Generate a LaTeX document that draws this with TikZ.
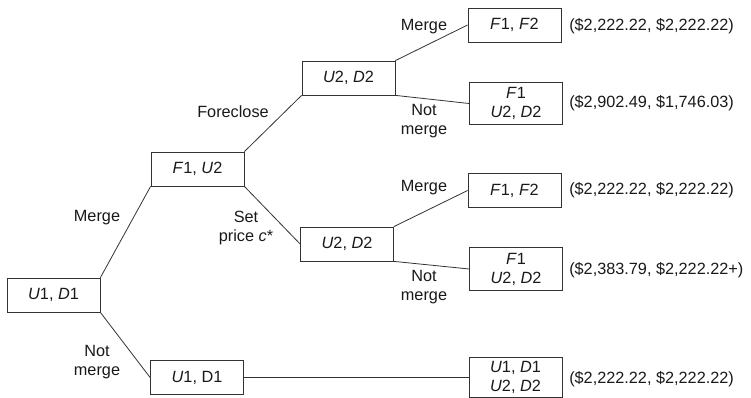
\documentclass[tikz,border=0pt]{standalone}
\usepackage{fontspec}
\setmainfont{Liberation Sans}
\begin{document}
\begin{tikzpicture}[x=0.75pt,y=-0.75pt,
  txt/.style={font=\fontsize{12.2}{14.2}\selectfont, text=black!90},
  box/.style={txt, draw=black!80, line width=0.6pt, minimum width=69.75pt,
    minimum height=25.5pt, inner sep=0pt, align=center},
  tallbox/.style={box, minimum height=32pt},
  lbl/.style={txt, inner sep=0pt, align=center},
  pay/.style={txt, inner sep=0pt, anchor=west},
  branch/.style={draw=black!80, line width=0.6pt}]
\useasboundingbox (0,0) rectangle (751,398);

% decision nodes
\node[box] (a) at (53.5,295) {\textit{U}1, \textit{D}1};
\node[box] (b) at (197.5,169) {\textit{F}1, \textit{U}2};
\node[box] (c) at (197,377.5) {\textit{U}1, D1};
\node[box] (d) at (348.5,78) {\textit{U}2, \textit{D}2};
\node[box] (g) at (347,244) {\textit{U}2, \textit{D}2};

% outcomes
\node[box] (e) at (514.5,25) {\textit{F}1, \textit{F}2};
\node[tallbox] (f) at (516,103.5) {\textit{F}1\\\textit{U}2, \textit{D}2};
\node[box] (h) at (514.5,190.5) {\textit{F}1, \textit{F}2};
\node[tallbox] (i) at (516,269) {\textit{F}1\\\textit{U}2, \textit{D}2};
\node[tallbox, minimum height=29.5pt] (j) at (515.5,377.5) {\textit{U}1, \textit{D}1\\\textit{U}2, \textit{D}2};

% branches
\draw[branch] (a.north east) -- (b.south west);
\draw[branch] (a.south east) -- (c.west);
\draw[branch] (b.north east) -- (d.south west);
\draw[branch] (b.south east) -- (g.west);
\draw[branch] (d.north east) -- (e.west);
\draw[branch] (d.south east) -- (f.west);
\draw[branch] (g.north east) -- (h.west);
\draw[branch] (g.south east) -- (i.west);
\draw[branch] (c.east) -- (j.west);

% branch labels
\node[lbl] (l1) at (97,218) {Merge};
\node[lbl] (l2) at (97,362) {Not\\merge};
\node[lbl] (l3) at (233,112) {Foreclose};
\node[lbl] (l4) at (246,228) {Set\\price \textit{c}*};
\node[lbl] (l5) at (424,27) {Merge};
\node[lbl] (l6) at (424,121) {Not\\merge};
\node[lbl] (l7) at (424,188) {Merge};
\node[lbl] (l8) at (424,287) {Not\\merge};

% payoffs
\node[pay] (p1) at (569,26) {(\$2,222.22, \$2,222.22)};
\node[pay] (p2) at (569,103) {(\$2,902.49, \$1,746.03)};
\node[pay] (p3) at (569,190) {(\$2,222.22, \$2,222.22)};
\node[pay] (p4) at (569,270) {(\$2,383.79, \$2,222.22+)};
\node[pay] (p5) at (569,379) {(\$2,222.22, \$2,222.22)};
\end{tikzpicture}
\end{document}
